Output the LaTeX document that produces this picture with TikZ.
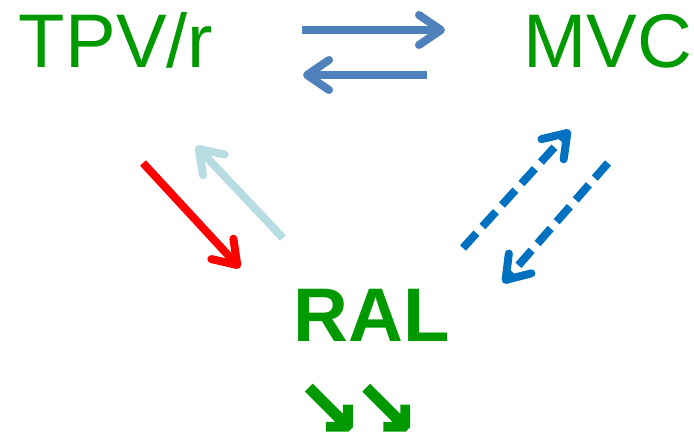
\documentclass[tikz,border=0pt]{standalone}
\usepackage{fontspec}
\setmainfont{Liberation Sans}
\newfontfamily\arrowfont[FakeBold=2.5]{DejaVu Sans}
\usetikzlibrary{arrows.meta}
\definecolor{labgreen}{RGB}{0,153,0}
\definecolor{swapblue}{RGB}{79,129,189}
\definecolor{paleblue}{RGB}{183,221,226}
\definecolor{dashblue}{RGB}{0,112,192}
\newcommand{\bigtxt}{\fontsize{76}{80}\selectfont}

\begin{document}
\begin{tikzpicture}[x=1pt,y=-1pt,
    lbl/.style={text=labgreen,inner sep=0pt,anchor=base},
    arr/.style={line width=8pt,-{Straight Barb[round,length=22pt,width=30pt]}},
    dsh/.style={arr,dash pattern=on 20pt off 9pt}]
    \useasboundingbox (0,0) rectangle (694,435);
    \node[lbl] (T) at (116,68) {\bigtxt TPV/r};
    \node[lbl] (M) at (608,68) {\bigtxt MVC};
    \node[lbl] (R) at (372,342) {\bigtxt\bfseries RAL};
    \node[lbl,anchor=south] (D) at (357,436) {\arrowfont\fontsize{78}{78}\selectfont\bfseries ↘\kern-8pt↘};
    % ends of the arrows
    \coordinate (tm0) at (302,30);  \coordinate (tm1) at (445,30);
    \coordinate (mt0) at (427,75);  \coordinate (mt1) at (303,75);
    \coordinate (tr0) at (143,163); \coordinate (tr1) at (240,268);
    \coordinate (rt0) at (283,238); \coordinate (rt1) at (196,146);
    \coordinate (rm0) at (463,248); \coordinate (rm1) at (570,130);
    \coordinate (mr0) at (608,163); \coordinate (mr1) at (503,283);
    \draw[arr,swapblue] (tm0) -- (tm1);
    \draw[arr,swapblue] (mt0) -- (mt1);
    \draw[arr,red] (tr0) -- (tr1);
    \draw[arr,paleblue] (rt0) -- (rt1);
    \draw[dsh,dashblue] (rm0) -- (rm1);
    \draw[dsh,dashblue] (mr0) -- (mr1);
\end{tikzpicture}
\end{document}
